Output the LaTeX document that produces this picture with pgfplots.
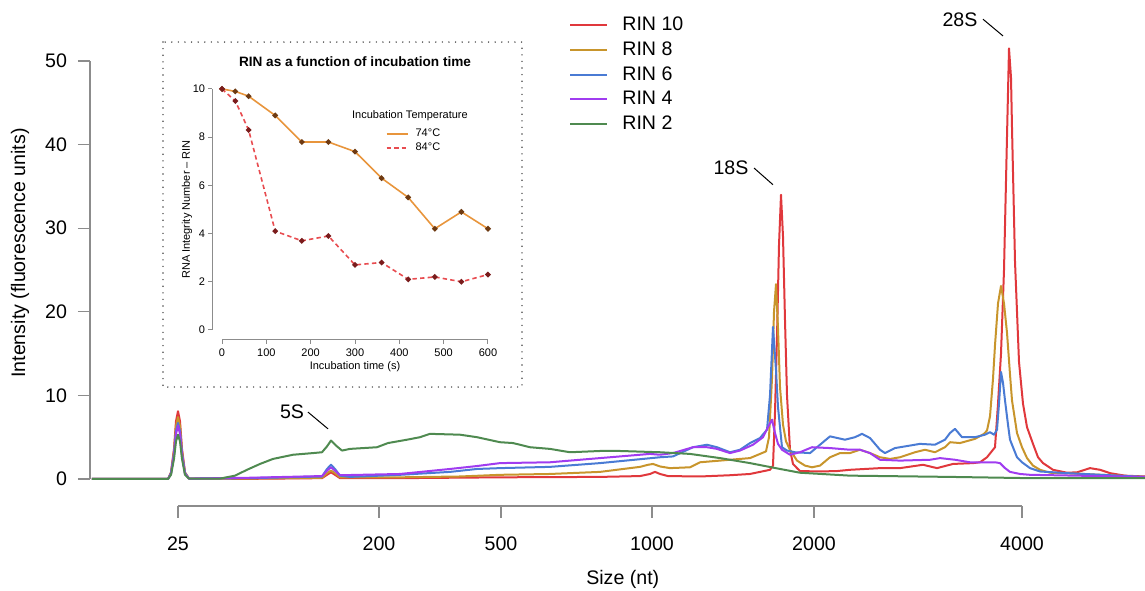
\documentclass[border=0pt]{standalone}
\usepackage{fontspec}
\setmainfont{Liberation Sans}
\usepackage{pgfplots}
\pgfplotsset{compat=1.18}

\definecolor{cRed}{HTML}{E0383C}
\definecolor{cGold}{HTML}{C8952C}
\definecolor{cBlue}{HTML}{4A7BD4}
\definecolor{cPurple}{HTML}{A03CF0}
\definecolor{cGreen}{HTML}{4F8A50}
\definecolor{cOrange}{HTML}{E8953C}
\definecolor{cDash}{HTML}{E84C50}
\definecolor{cMarkA}{HTML}{6E3A12}
\definecolor{cMarkB}{HTML}{7A1C1C}
\definecolor{axgray}{HTML}{8C8C8C}

\newcommand\mainfont{\fontsize{9.8}{11}\selectfont}
\newcommand\insetfont{\fontsize{5.5}{6.5}\selectfont}

\begin{document}
\begin{tikzpicture}
% main electropherogram, x in trace position units
\begin{axis}[
  scale only axis, width=527.5pt, height=253pt,
  xmin=90, xmax=1145, ymin=-3.23, ymax=57.3,
  axis x line*=bottom, axis y line*=left,
  axis line style={draw=none},
  tick align=outside, major tick length=6pt,
  every tick/.style={axgray, line width=0.6pt},
  xtick={178,379,501,652,814,1022},
  xticklabels={25,200,500,1000,2000,4000},
  ytick={0,10,...,50},
  /pgf/number format/assume math mode=true,
  ticklabel style={font=\mainfont},
  xticklabel style={yshift=-6pt},
  yticklabel style={xshift=-2pt},
  xlabel={Size (nt)}, ylabel={Intensity (fluorescence units)},
  every axis x label/.style={at={(axis description cs:0.505,-0.145)}, anchor=center, font=\mainfont},
  every axis y label/.style={at={(axis description cs:-0.0664,0.5)}, rotate=90, anchor=center, font=\mainfont},
  clip=false,
  no markers,
  every axis plot/.append style={line width=1pt, line join=round},
  legend style={at={(axis description cs:0.454,0.972)}, anchor=north west, draw=none, fill=none,
    inner sep=0pt, row sep=2.1pt, column sep=6pt, font=\mainfont, nodes={inner sep=1pt}},
  legend cell align=left,
  legend image code/.code={\draw[#1] (0pt,0pt) -- (18.5pt,0pt);},
]
\addplot[cRed] coordinates {
(92,0) (168,0) (171,0.8) (174,3.6) (176,6.9) (178,8.1) (180,6.9) (182,3.6) (185,0.8) (189,0.05)
(250,0.02) (322,0.1) (327,0.5) (331,0.8) (335,0.5) (340,0.1) (400,0.1) (500,0.2) (600,0.25)
(640,0.35) (650,0.6) (655,0.85) (660,0.6) (668,0.35) (700,0.3) (730,0.45) (750,0.6) (762,0.9)
(770,1.1) (773,1.6) (775,8) (777,17) (779,28) (781,34) (783,29) (785,19) (787,10) (790,3.5)
(793,1.8) (797,1.3) (800,0.95) (820,0.9) (837,0.95) (850,1.1) (880,1.3) (900,1.3) (923,1.7)
(937,1.3) (953,1.8) (973,1.9) (980,2.0) (987,2.6) (993,3.5) (995,3.8) (998,9) (1001,15)
(1004,25) (1007,41) (1009,51.5) (1011,48) (1012,42) (1015,26) (1019,14) (1023,9) (1027,6.2)
(1033,4.2) (1038,2.6) (1043,1.9) (1053,1.1) (1067,0.75) (1077,0.8) (1090,1.3) (1100,1.1)
(1110,0.7) (1125,0.4) (1145,0.3)
};
\addlegendentry{RIN 10}
\addplot[cGold] coordinates {
(92,0) (168,0) (171,0.7) (174,3.3) (176,6.3) (178,7.4) (180,6.3) (182,3.3) (185,0.7) (189,0.05)
(250,0.05) (322,0.15) (327,0.7) (331,1.0) (335,0.7) (340,0.2) (400,0.2) (460,0.3) (500,0.5)
(550,0.6) (600,0.85) (640,1.45) (648,1.7) (653,1.8) (660,1.5) (670,1.3) (690,1.4) (700,2.0)
(720,2.2) (740,2.4) (750,2.5) (760,3.0) (766,3.3) (769,5) (772,12) (774,20) (776,23.3)
(778,18) (780,11) (783,6.5) (786,4.5) (790,3.5) (797,2.2) (805,1.6) (812,1.4) (820,1.6)
(830,2.6) (840,3.1) (850,3.1) (860,3.5) (870,3.1) (880,2.6) (890,2.4) (900,2.6) (915,3.2)
(925,3.5) (935,3.2) (945,3.8) (950,4.4) (960,4.3) (975,4.8) (984,5.4) (987,5.8) (990,7.5)
(993,12) (995,16) (998,21) (1001,23.1) (1004,21) (1007,17.5) (1010,12.5) (1012,9.4)
(1017,5.5) (1022,3.8) (1027,2.5) (1033,1.6) (1040,1.1) (1050,0.75) (1083,0.6) (1145,0.25)
};
\addlegendentry{RIN 8}
\addplot[cBlue] coordinates {
(92,0) (168,0) (171,0.7) (174,3.0) (176,5.7) (178,6.7) (180,5.7) (182,3.0) (185,0.7) (189,0.05)
(250,0.1) (322,0.3) (327,1.2) (331,1.7) (335,1.2) (340,0.4) (350,0.25) (400,0.5) (450,0.85)
(477,1.2) (500,1.3) (550,1.45) (600,1.9) (660,2.6) (673,2.7) (693,3.8) (707,4.1) (717,3.8)
(730,3.2) (740,3.5) (750,4.3) (760,4.9) (767,5.9) (770,10) (773,18.2) (776,13) (778,8.6)
(782,3.8) (787,3.4) (795,3.2) (810,3.1) (820,4.1) (830,5.1) (845,4.7) (855,5.0) (862,5.4)
(870,4.9) (880,3.5) (885,3.1) (895,3.7) (920,4.2) (935,4.1) (945,4.7) (950,5.5) (955,6.0)
(962,5.0) (975,5.0) (985,5.3) (990,5.6) (994,5.3) (997,5.9) (999,9) (1001,12.8) (1003,11.5)
(1005,9.4) (1008,6.5) (1010,4.7) (1017,2.6) (1022,2.0) (1030,1.3) (1040,0.9) (1067,0.7)
(1145,0.25)
};
\addlegendentry{RIN 6}
\addplot[cPurple] coordinates {
(92,0) (168,0) (171,0.6) (174,2.9) (176,5.4) (178,6.4) (180,5.4) (182,2.9) (185,0.6) (189,0.05)
(250,0.15) (322,0.35) (327,1.0) (331,1.4) (335,1.0) (340,0.45) (400,0.6) (450,1.2) (477,1.55)
(500,1.9) (550,2.0) (600,2.5) (650,3.0) (660,2.9) (673,3.1) (693,3.8) (707,3.8) (717,3.6)
(730,3.1) (740,3.4) (753,4.1) (763,5.0) (768,6.2) (772,7.1) (775,5.5) (778,4.2) (782,3.5)
(790,2.9) (800,3.2) (812,3.8) (830,3.7) (850,3.5) (860,3.5) (870,3.1) (880,2.3) (900,2.2)
(930,2.3) (940,2.5) (955,2.3) (970,2.0) (995,2.0) (1000,1.9) (1005,1.3) (1010,0.85)
(1020,0.6) (1030,0.5) (1145,0.25)
};
\addlegendentry{RIN 4}
\addplot[cGreen] coordinates {
(92,0) (168,0) (171,0.5) (174,2.4) (176,4.5) (178,5.3) (180,4.5) (182,2.4) (185,0.5) (189,0.05)
(220,0.05) (235,0.4) (247,1.1) (260,1.8) (273,2.4) (293,2.9) (313,3.1) (322,3.2) (327,3.9)
(331,4.6) (336,4.0) (342,3.4) (350,3.6) (377,3.8) (388,4.3) (407,4.7) (420,5.0) (430,5.4)
(460,5.3) (477,5.0) (500,4.4) (513,4.3) (530,3.8) (550,3.6) (570,3.2) (600,3.35) (620,3.35)
(660,3.2) (690,3.0) (720,2.5) (750,1.9) (780,1.2) (800,0.75) (850,0.4) (950,0.25) (1030,0.1)
(1145,0.1)
};
\addlegendentry{RIN 2}
% axis lines, R style
\draw[axgray, line width=0.6pt] (axis cs:90,0) -- (axis cs:90,50);
\draw[axgray, line width=0.6pt] (axis cs:178,-3.23) -- (axis cs:1022,-3.23);
% peak labels
\node[font=\mainfont] at (axis cs:960,54.9) {28S};
\draw[line width=0.5pt] (axis cs:983,55.0) -- (axis cs:1003,53.0);
\node[font=\mainfont] at (axis cs:731,37.2) {18S};
\draw[line width=0.5pt] (axis cs:754,37.2) -- (axis cs:773,35.2);
\node[font=\mainfont] at (axis cs:292,8.0) {5S};
\draw[line width=0.5pt] (axis cs:308,8.0) -- (axis cs:328,6.0);
% inset frame
\draw[black!70, line width=0.8pt, line cap=round, dash pattern=on 0pt off 3.3pt]
  (axis cs:163,52.27) rectangle (axis cs:522,11.0);
\coordinate (insetSW) at (axis cs:212,16.63);
\coordinate (bbA) at (axis cs:0,-13.28);
\coordinate (bbB) at (axis cs:1145,57.3);
\end{axis}

% inset: RIN against incubation time
\begin{axis}[
  at={(insetSW)}, anchor=south west,
  scale only axis, width=143pt, height=130.5pt,
  xmin=-22.6, xmax=622.6, ymin=-0.415, ymax=10.415,
  axis x line*=bottom, axis y line*=left,
  axis line style={draw=none},
  tick align=outside, major tick length=1.8pt,
  every tick/.style={axgray, line width=0.5pt},
  xtick={0,100,...,600}, ytick={0,2,...,10},
  /pgf/number format/assume math mode=true,
  ticklabel style={font=\insetfont, inner sep=1.5pt},
  xticklabel style={yshift=-1pt},
  title={RIN as a function of incubation time},
  title style={at={(axis description cs:0.5,1.019)}, anchor=center, font=\bfseries\fontsize{6.8}{8}\selectfont},
  xlabel={Incubation time (s)}, ylabel={RNA Integrity Number -- RIN},
  every axis x label/.style={at={(axis description cs:0.5,-0.103)}, anchor=center, font=\insetfont},
  every axis y label/.style={at={(axis description cs:-0.087,0.5)}, rotate=90, anchor=center, font=\insetfont},
  clip=false,
  legend style={at={(axis description cs:0.605,0.82)}, anchor=north west, draw=none, fill=none,
    inner sep=0pt, row sep=0pt, column sep=2.5pt, font=\insetfont, nodes={inner sep=1pt}},
  legend cell align=left,
  legend image code/.code={\draw[#1] (0pt,0pt) -- (10.5pt,0pt);},
]
\addlegendimage{draw=cOrange, line width=1.1pt, solid}
\addlegendentry{74°C}
\addlegendimage{draw=cDash, line width=1pt, dash pattern=on 2.2pt off 1.6pt}
\addlegendentry{84°C}
\addplot[forget plot, color=cOrange, line width=0.8pt, mark=*, mark size=0.95pt, mark options={solid, draw=cMarkA, fill=cMarkA}]
coordinates {
(0,10) (30,9.9) (60,9.7) (120,8.9) (180,7.8) (240,7.8) (300,7.4) (360,6.3)
(420,5.5) (480,4.2) (540,4.9) (600,4.2)
};
\addplot[forget plot, color=cDash, line width=0.8pt, dash pattern=on 2.2pt off 1.6pt, mark=*, mark size=0.95pt, mark options={solid, draw=cMarkB, fill=cMarkB}]
coordinates {
(0,10) (30,9.5) (60,8.3) (120,4.1) (180,3.7) (240,3.9) (300,2.7) (360,2.8)
(420,2.1) (480,2.2) (540,2.0) (600,2.3)
};
\draw[axgray, line width=0.5pt] (axis cs:-22.6,0) -- (axis cs:-22.6,10);
\draw[axgray, line width=0.5pt] (axis cs:0,-0.415) -- (axis cs:600,-0.415);
\node[font=\insetfont] at (axis cs:424,8.88) {Incubation Temperature};
\end{axis}
\pgfresetboundingbox
\path[use as bounding box] (bbA) rectangle (bbB);
\end{tikzpicture}
\end{document}
